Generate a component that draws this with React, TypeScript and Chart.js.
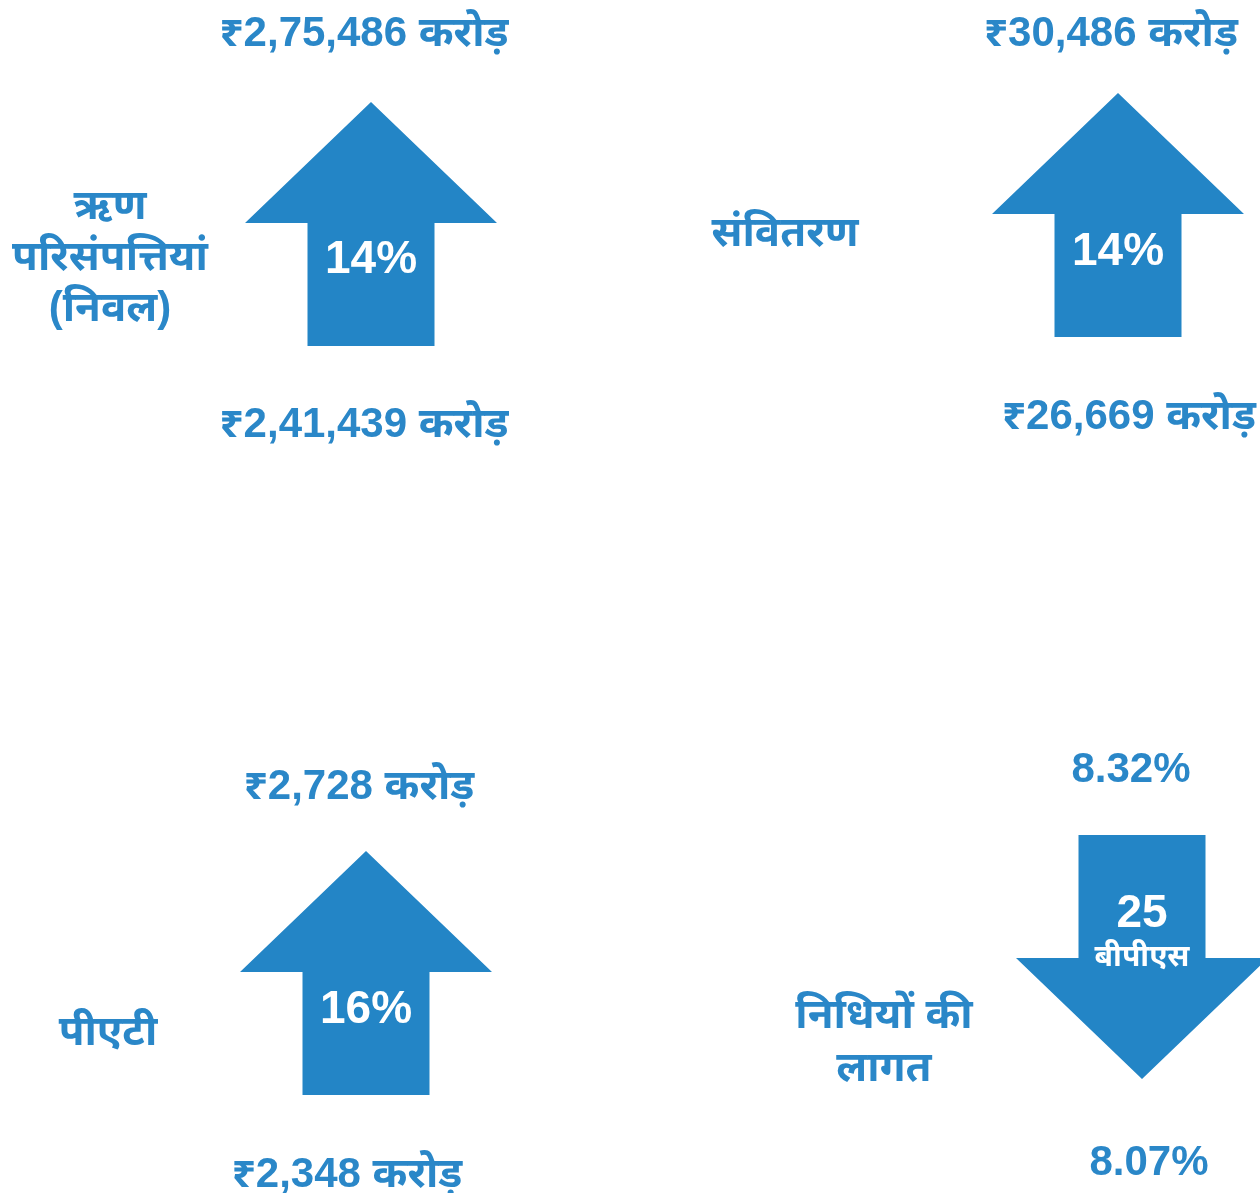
import React, { useEffect, useRef } from "react";
import { Chart, registerables } from "chart.js";

Chart.register(...registerables);

// ---- Data ----
const categories: string[][] = [
  ["ऋण", "परिसंपत्तियां", "(निवल)"],
  ["संवितरण"],
  ["पीएटी"],
  ["निधियों की", "लागत"],
];
const topValues = ["₹2,75,486 करोड़", "₹30,486 करोड़", "₹2,728 करोड़", "8.32%"];
const bottomValues = ["₹2,41,439 करोड़", "₹26,669 करोड़", "₹2,348 करोड़", "8.07%"];
const changeValues = ["14%", "14%", "16%", "25"];
const changeUnits = ["", "", "", "बीपीएस"];
const directions = ["up", "up", "up", "down"];

// ---- Layout / style (chart value space = page pixels) ----
const W = 1260;
const H = 1193;
const ARROW = { height: 244, head: 121, shaftW: 127, headW: 252 };
const ARROW_COLOR = "#2385C6";
const TEXT_COLOR = "#2A87C8";
const FONT = "'Liberation Sans', Arial, 'Noto Sans Devanagari', 'Lohit Devanagari', sans-serif";
const VALUE_SIZE = 42;
const CHANGE_SIZE = 46;
const UNIT_SIZE = 30;
const LABEL_SIZE = 42;

const PANELS = [
  { ax: 371, at: 102, tx: 364, ty: 46, bx: 364, by: 437, cy: 273, lx: 110, ly: [219, 270, 321] },
  { ax: 1118, at: 93, tx: 1111, ty: 46, bx: 1129, by: 429, cy: 265, lx: 785, ly: [246] },
  { ax: 366, at: 851, tx: 359, ty: 799, bx: 347, by: 1187, cy: 1023, lx: 108, ly: [1045] },
  { ax: 1142, at: 835, tx: 1131, ty: 782, bx: 1149, by: 1175, cy: 927, uy: 966, lx: 884, ly: [1028, 1081] },
];

const arrowPlugin = {
  id: "arrowPanels",
  afterDatasetsDraw(chart: any) {
    const { ctx, scales } = chart;
    const xs = scales.x;
    const ys = scales.y;
    const px = (v: number) => xs.getPixelForValue(v);
    const py = (v: number) => ys.getPixelForValue(v);
    ctx.save();
    PANELS.forEach((p, i) => {
      const cx = px(p.ax);
      const top = py(p.at);
      const bot = py(p.at + ARROW.height);
      const sw = px(p.ax + ARROW.shaftW / 2) - cx;
      const hw = px(p.ax + ARROW.headW / 2) - cx;
      ctx.beginPath();
      if (directions[i] === "up") {
        const hb = py(p.at + ARROW.head);
        ctx.moveTo(cx, top);
        ctx.lineTo(cx + hw, hb);
        ctx.lineTo(cx + sw, hb);
        ctx.lineTo(cx + sw, bot);
        ctx.lineTo(cx - sw, bot);
        ctx.lineTo(cx - sw, hb);
        ctx.lineTo(cx - hw, hb);
      } else {
        const hb = py(p.at + ARROW.height - ARROW.head);
        ctx.moveTo(cx - sw, top);
        ctx.lineTo(cx + sw, top);
        ctx.lineTo(cx + sw, hb);
        ctx.lineTo(cx + hw, hb);
        ctx.lineTo(cx, bot);
        ctx.lineTo(cx - hw, hb);
        ctx.lineTo(cx - sw, hb);
      }
      ctx.closePath();
      ctx.fillStyle = ARROW_COLOR;
      ctx.fill();

      ctx.textAlign = "center";
      ctx.textBaseline = "alphabetic";

      // change inside arrow
      ctx.fillStyle = "#FFFFFF";
      ctx.font = `bold ${CHANGE_SIZE}px ${FONT}`;
      ctx.fillText(changeValues[i], cx, py(p.cy));
      if (changeUnits[i]) {
        ctx.font = `bold ${UNIT_SIZE}px ${FONT}`;
        ctx.fillText(changeUnits[i], cx, py((p as any).uy));
      }

      // values
      ctx.fillStyle = TEXT_COLOR;
      ctx.font = `bold ${VALUE_SIZE}px ${FONT}`;
      ctx.fillText(topValues[i], px(p.tx), py(p.ty));
      ctx.fillText(bottomValues[i], px(p.bx), py(p.by));

      // category label
      ctx.font = `bold ${LABEL_SIZE}px ${FONT}`;
      categories[i].forEach((line, j) => {
        ctx.fillText(line, px(p.lx), py(p.ly[j]));
      });
    });
    ctx.restore();
  },
};

export default function App() {
  const ref = useRef<HTMLCanvasElement | null>(null);
  useEffect(() => {
    document.body.style.margin = "0";
    const canvas = ref.current;
    if (!canvas) return;
    const chart = new Chart(canvas, {
      type: "scatter",
      data: {
        datasets: [
          {
            label: "panels",
            data: PANELS.map((p) => ({ x: p.ax, y: p.at })),
            pointRadius: 0,
          },
        ],
      },
      options: {
        responsive: false,
        animation: false,
        devicePixelRatio: 1,
        layout: { padding: 0 },
        scales: {
          x: { type: "linear", min: 0, max: W, display: false },
          y: { type: "linear", min: 0, max: H, reverse: true, display: false },
        },
        plugins: {
          legend: { display: false },
          tooltip: { enabled: false },
          title: { display: false },
        },
      },
      plugins: [arrowPlugin],
    });
    return () => chart.destroy();
  }, []);
  return (
    <div style={{ position: "absolute", left: 0, top: 0, width: W, height: H, background: "#fff" }}>
      <canvas ref={ref} width={W} height={H} style={{ display: "block", width: W, height: H }} />
    </div>
  );
}
